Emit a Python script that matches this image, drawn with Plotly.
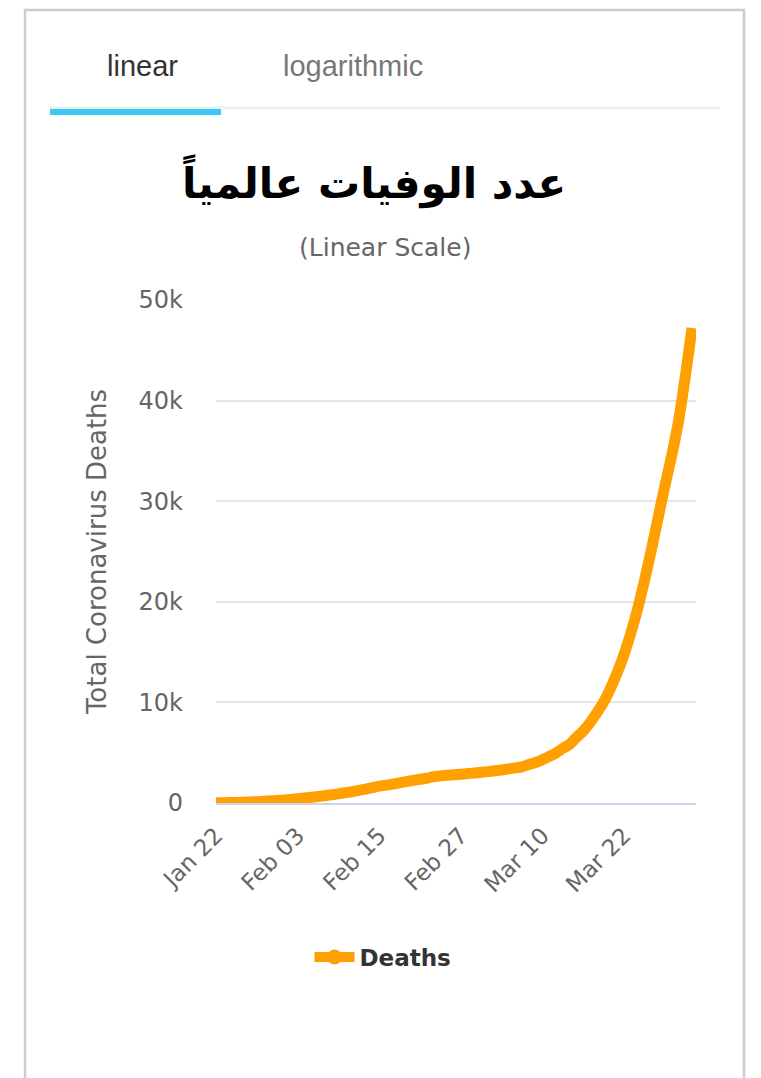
import pandas as pd
import plotly.graph_objects as go

# global cumulative coronavirus deaths, one value per day from Jan 22
deaths = [
    17, 25, 41, 56, 80, 106, 132, 170, 213, 259,
    304, 362, 426, 492, 565, 638, 724, 813, 910, 1018,
    1115, 1261, 1383, 1526, 1669, 1775, 1873, 2009, 2126, 2247,
    2360, 2460, 2618, 2699, 2763, 2800, 2858, 2923, 2977, 3050,
    3117, 3202, 3285, 3387, 3494, 3599, 3827, 4025, 4296, 4628,
    4981, 5428, 5833, 6520, 7164, 7984, 8968, 10031, 11386, 12961,
    14751, 16900, 19300, 22100, 25100, 28300, 31500, 34500, 37900, 42322,
    47225,
]
dates = pd.date_range("2020-01-22", periods=len(deaths), freq="D")

x_tick_dates = ["2020-01-22", "2020-02-03", "2020-02-15", "2020-02-27", "2020-03-10", "2020-03-22"]
x_tick_labels = ["Jan 22", "Feb 03", "Feb 15", "Feb 27", "Mar 10", "Mar 22"]
y_tick_vals = [0, 10000, 20000, 30000, 40000, 50000]
y_tick_labels = ["0", "10k", "20k", "30k", "40k", "50k"]

title_text = "عدد الوفيات عالمياً"
subtitle_text = "(Linear Scale)"

# plot area in page pixels; the page body adds an 8px offset
OFF = 8
W, H = 761 - OFF, 1078 - OFF
L, R, T, B = 216, 696, 300, 803


def px(x):
    return (x - L) / (R - L)


def py(y):
    return (B - y) / (B - T)


orange = "#FFA000"
font = "DejaVu Sans"

fig = go.Figure()
fig.add_trace(go.Scatter(
    x=dates, y=deaths, mode="lines", showlegend=False,
    line=dict(color=orange, width=11, shape="spline", smoothing=0.6),
))
# legend entry (line with a dot, like the original)
fig.add_trace(go.Scatter(
    x=[None], y=[None], mode="lines+markers", name="Deaths",
    line=dict(color=orange, width=10), marker=dict(color=orange, size=15),
))


def note(text, x, y, size, color, family=font, bold=False):
    return dict(text=text, x=px(x), y=py(y), xref="paper", yref="paper",
                xanchor="center", yanchor="middle", showarrow=False,
                font=dict(family=family, size=size, color=color,
                          weight="bold" if bold else "normal"))


fig.update_layout(
    width=W, height=H, autosize=False,
    margin=dict(l=L - OFF, r=W - (R - OFF), t=T - OFF, b=H - (B - OFF)),
    paper_bgcolor="white", plot_bgcolor="white",
    font=dict(family=font, color="#666666", size=22),
    showlegend=True,
    legend=dict(
        orientation="h", x=px(383), xanchor="center", y=py(957), yanchor="middle",
        font=dict(family=font, size=23, color="#333333", weight="bold"),
        itemwidth=40,
    ),
    shapes=[
        dict(type="rect", xref="paper", yref="paper", x0=px(25), x1=px(744), y0=py(1110), y1=py(10),
             line=dict(color="#cccccc", width=2.5), layer="below"),
        dict(type="line", xref="paper", yref="paper", x0=px(50), x1=px(720), y0=py(108), y1=py(108),
             line=dict(color="#eeeeee", width=3)),
        dict(type="rect", xref="paper", yref="paper", x0=px(50), x1=px(221), y0=py(115), y1=py(109),
             fillcolor="#38c9f5", line=dict(width=0)),
    ],
    annotations=[
        note("linear", 142, 66, 29, "#333333", family="Liberation Sans"),
        note("logarithmic", 353, 66, 29, "#777777", family="Liberation Sans"),
        note(title_text, 374, 181, 42, "#000000", bold=True),
        note(subtitle_text, 385, 247, 25, "#666666"),
    ],
)

fig.update_xaxes(
    range=["2020-01-22", "2020-04-01 14:00"],
    tickvals=x_tick_dates, ticktext=x_tick_labels, tickangle=-45,
    tickfont=dict(size=23, color="#666666"),
    showgrid=False, zeroline=False,
    showline=True, linecolor="#ccd6eb", linewidth=2,
    ticks="", ticklabelstandoff=8, automargin=False,
)
fig.update_yaxes(
    range=[0, 50000],
    tickvals=y_tick_vals, ticktext=y_tick_labels,
    tickfont=dict(size=24, color="#666666"),
    showgrid=True, gridcolor="#e6e6e6", gridwidth=2,
    zeroline=False, showline=False,
    ticks="", ticklabelstandoff=32, automargin=False,
    title=dict(text="Total Coronavirus Deaths", font=dict(size=26, color="#666666"), standoff=24),
)

fig.write_html("out.html")
